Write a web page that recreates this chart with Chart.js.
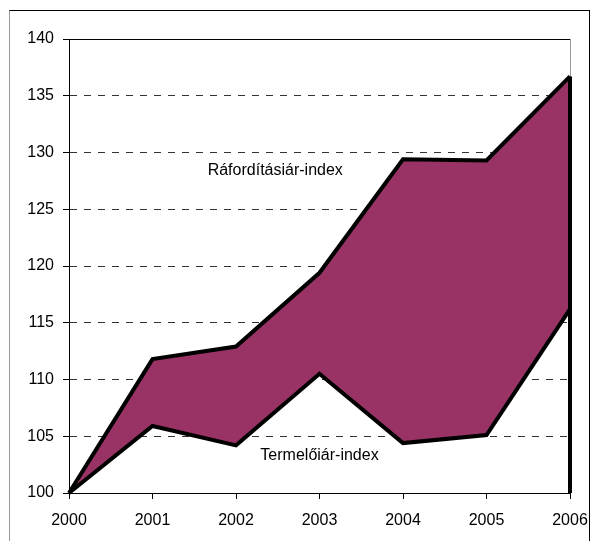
<!DOCTYPE html>
<html>
<head>
<meta charset="utf-8">
<script src="https://cdn.jsdelivr.net/npm/chart.js@4.4.0/dist/chart.umd.min.js"></script>
<style>
  body { margin: 0; background: #fff; }
  #wrap { position: relative; width: 595px; height: 541px; overflow: hidden; }
  #frame { position: absolute; left: 9px; top: 10px; width: 579px; height: 600px; border: 1px solid #000; border-left-color: #999; }
  canvas { position: absolute; left: 0; top: 0; }
</style>
</head>
<body>
<div id="wrap">
  <div id="frame"></div>
  <canvas id="chart" width="595" height="541"></canvas>
</div>
<script>
// years on the x axis
const years = [2000, 2001, 2002, 2003, 2004, 2005, 2006];
// Ráfordításiár-index (upper line)
const inputIndex = [100, 111.8, 112.9, 119.4, 129.4, 129.3, 136.7];
// Termelőiár-index (lower line)
const outputIndex = [100, 105.9, 104.2, 110.5, 104.4, 105.1, 116.2];
const yMin = 100, yMax = 140, yStep = 5;
const seriesNames = ['Ráfordításiár-index', 'Termelőiár-index'];

const FONT = 'Liberation Sans, Arial, sans-serif';

function pts(vals) {
  return years.map(function (y, i) { return { x: y, y: vals[i] }; });
}

// frame of the plot area + the two series captions
const extras = {
  id: 'extras',
  beforeDatasetsDraw: function (chart) {
    const ctx = chart.ctx, a = chart.chartArea;
    ctx.save();
    ctx.lineWidth = 1;
    ctx.strokeStyle = '#000';
    ctx.beginPath();
    ctx.moveTo(a.left, a.top + 0.5);
    ctx.lineTo(a.right, a.top + 0.5);
    ctx.stroke();
    ctx.strokeStyle = '#999';
    ctx.beginPath();
    ctx.moveTo(a.right + 0.5, a.top);
    ctx.lineTo(a.right + 0.5, a.bottom);
    ctx.stroke();
    ctx.restore();
  },
  afterDatasetsDraw: function (chart) {
    const ctx = chart.ctx;
    const xs = chart.scales.x, ys = chart.scales.y;
    ctx.save();
    ctx.fillStyle = '#000';
    ctx.font = '16px ' + FONT;
    ctx.textAlign = 'center';
    ctx.textBaseline = 'middle';
    ctx.fillText(seriesNames[0], xs.getPixelForValue(2002.47), ys.getPixelForValue(128.4));
    ctx.fillText(seriesNames[1], xs.getPixelForValue(2003.0), ys.getPixelForValue(103.3));
    ctx.restore();
  }
};

new Chart(document.getElementById('chart'), {
  type: 'line',
  data: {
    datasets: [{
      label: seriesNames[0],
      data: pts(inputIndex),
      borderColor: '#000',
      borderWidth: 4,
      backgroundColor: '#993366',
      fill: '+1',
      pointRadius: 0,
      tension: 0,
      clip: 4,
      borderJoinStyle: 'miter'
    }, {
      label: seriesNames[1],
      data: pts(outputIndex),
      borderColor: '#000',
      borderWidth: 4,
      fill: false,
      pointRadius: 0,
      tension: 0,
      clip: 4,
      borderJoinStyle: 'miter'
    }, {
      // closing edge at the last year
      label: 'edge',
      data: [{ x: years[years.length - 1], y: inputIndex[inputIndex.length - 1] }, { x: years[years.length - 1], y: yMin }],
      borderColor: '#000',
      borderWidth: 4,
      fill: false,
      pointRadius: 0,
      clip: 4
    }]
  },
  options: {
    responsive: false,
    animation: false,
    layout: { padding: { left: 0, top: 39, right: 25, bottom: 0 } },
    plugins: {
      legend: { display: false },
      tooltip: { enabled: false },
      filler: { drawTime: 'beforeDatasetsDraw' }
    },
    scales: {
      x: {
        type: 'linear',
        min: years[0],
        max: years[years.length - 1],
        afterFit: function (s) { s.height = 48; s.paddingLeft = 0; s.paddingRight = 0; },
        ticks: {
          stepSize: 1,
          color: '#000',
          padding: 12,
          font: { family: FONT, size: 16 },
          callback: function (v) { return String(v); }
        },
        grid: { drawOnChartArea: false, color: '#000', tickLength: 6 },
        border: { color: '#000', width: 1 }
      },
      y: {
        min: yMin,
        max: yMax,
        afterFit: function (s) { s.width = 69; s.paddingTop = 0; s.paddingBottom = 0; },
        ticks: {
          stepSize: yStep,
          color: '#000',
          padding: 9,
          font: { family: FONT, size: 16 }
        },
        grid: { color: '#333', tickLength: 6, tickBorderDash: [], tickColor: '#000' },
        border: { color: '#000', width: 1, dash: [7, 7] }
      }
    }
  },
  plugins: [extras]
});
</script>
</body>
</html>
